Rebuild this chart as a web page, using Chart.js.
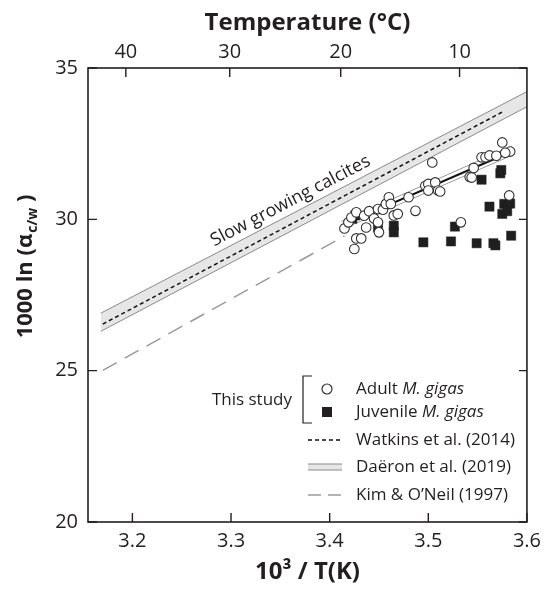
<!DOCTYPE html>
<html>
<head>
<meta charset="utf-8">
<script src="https://cdn.jsdelivr.net/npm/chart.js@4.4.1/dist/chart.umd.min.js"></script>
<style>
  html, body { margin: 0; padding: 0; background: #fff; }
</style>
</head>
<body>
<canvas id="chart" width="548" height="590"></canvas>
<script>
// Adult M. gigas (open circles): x = 10^3/T(K), y = 1000 ln(alpha c/w)
var adultX = [3.415, 3.419, 3.422, 3.425, 3.427, 3.427, 3.432, 3.435, 3.437, 3.440,
              3.445, 3.449, 3.449, 3.450, 3.454, 3.457, 3.460, 3.462, 3.465, 3.469,
              3.480, 3.487, 3.497, 3.500, 3.500, 3.504, 3.507, 3.510, 3.512, 3.533,
              3.542, 3.544, 3.546, 3.554, 3.558, 3.562, 3.569, 3.575, 3.582, 3.583, 3.578];
var adultY = [29.70, 29.90, 30.06, 29.02, 29.37, 30.23, 29.37, 30.12, 29.73, 30.27,
              30.03, 30.34, 29.90, 29.57, 30.32, 30.51, 30.73, 30.51, 30.13, 30.18,
              30.73, 30.28, 31.11, 31.17, 30.95, 31.88, 31.22, 30.95, 30.92, 29.90,
              31.40, 31.38, 31.70, 32.05, 32.05, 32.11, 32.10, 32.54, 30.79, 32.24, 32.20];

// Juvenile M. gigas (filled squares)
var juvX = [3.423, 3.426, 3.449, 3.465, 3.465, 3.495, 3.523, 3.527, 3.549, 3.554,
            3.562, 3.566, 3.568, 3.573, 3.574, 3.575, 3.577, 3.580, 3.583, 3.584];
var juvY = [30.02, 30.13, 29.73, 29.79, 29.57, 29.24, 29.27, 29.76, 29.21, 31.31,
            30.42, 29.21, 29.14, 31.52, 31.63, 30.18, 30.51, 30.27, 30.52, 29.46];

// reference lines (end points)
var watkinsX = [3.170, 3.577];
var watkinsY = [26.54, 33.58];
var daeronX = [3.168, 3.600];
var daeronHi = [26.90, 34.22];
var daeronLo = [26.30, 33.72];
var kimX = [3.170, 3.415];
var kimY = [25.01, 29.45];

// this study regression and its confidence lines
var fitX = [3.412, 3.585];
var fitY = [29.80, 32.25];
var fitHi = [29.93, 32.42];
var fitLo = [29.66, 32.12];

var xTicks = [3.2, 3.3, 3.4, 3.5, 3.6];
var tempTicks = [40, 30, 20, 10];

function pts(xs, ys) {
  return xs.map(function (x, i) { return { x: x, y: ys[i] }; });
}

var FONT = "'Open Sans', 'DejaVu Sans', sans-serif";
var INK = '#231f20';

// inward tick marks, frame, y title, band label and legend
var frame = {
  id: 'frame',
  afterDraw: function (chart) {
    var c = chart.ctx, a = chart.chartArea, s = chart.scales;
    c.save();
    c.strokeStyle = INK;
    c.lineWidth = 1.6;
    c.strokeRect(a.left, a.top, a.right - a.left, a.bottom - a.top);
    c.lineWidth = 1.4;
    c.beginPath();
    s.x.ticks.forEach(function (t) {
      var px = s.x.getPixelForValue(t.value);
      c.moveTo(px, a.bottom); c.lineTo(px, a.bottom - 9);
    });
    s.x2.ticks.forEach(function (t) {
      var px = s.x2.getPixelForValue(t.value);
      c.moveTo(px, a.top); c.lineTo(px, a.top + 9);
    });
    s.y.ticks.forEach(function (t) {
      var py = s.y.getPixelForValue(t.value);
      c.moveTo(a.left, py); c.lineTo(a.left + 9, py);
      c.moveTo(a.right, py); c.lineTo(a.right - 8, py);
    });
    c.stroke();

    // y title with subscript
    var cy = (a.top + a.bottom) / 2 - 28;
    c.translate(26, cy);
    c.rotate(-Math.PI / 2);
    c.fillStyle = INK;
    c.textBaseline = 'middle';
    var big = 'bold 22px ' + FONT, small = 'bold 14px ' + FONT;
    var p1 = '1000 ln (\u03b1', p2 = 'c/w', p3 = ' )';
    c.font = big; var w1 = c.measureText(p1).width, w3 = c.measureText(p3).width;
    c.font = small; var w2 = c.measureText(p2).width;
    var x0 = -(w1 + w2 + w3) / 2;
    c.font = big; c.fillText(p1, x0, 0);
    c.font = small; c.fillText(p2, x0 + w1 + 1, 7);
    c.font = big; c.fillText(p3, x0 + w1 + w2 + 1, 0);
    c.restore();

    // label along the slow growing calcite band
    var xa = s.x.getPixelForValue(daeronX[0]), ya = s.y.getPixelForValue(daeronHi[0]);
    var xb = s.x.getPixelForValue(daeronX[1]), yb = s.y.getPixelForValue(daeronHi[1]);
    var ang = Math.atan2(yb - ya, xb - xa);
    var tx = s.x.getPixelForValue(3.366);
    var ty = ya + (tx - xa) * (yb - ya) / (xb - xa);
    c.save();
    c.translate(tx, ty);
    c.rotate(ang);
    c.font = '18px ' + FONT;
    c.fillStyle = INK;
    c.textAlign = 'center';
    c.textBaseline = 'bottom';
    c.fillText('Slow growing calcites', 0, -3);
    c.restore();

    drawLegend(c);
  }
};

function drawLegend(c) {
  var sx = 308, ex = 342, tx = 356;
  var rows = [389, 412, 440, 467, 495];
  c.save();
  c.fillStyle = INK;
  c.textBaseline = 'middle';
  c.font = '17px ' + FONT;

  // bracket for this study
  c.strokeStyle = INK;
  c.lineWidth = 1.2;
  c.beginPath();
  c.moveTo(312, rows[0] - 13); c.lineTo(303, rows[0] - 13);
  c.lineTo(303, rows[1] + 11); c.lineTo(312, rows[1] + 11);
  c.stroke();
  c.textAlign = 'right';
  c.fillText('This study', 292, (rows[0] + rows[1]) / 2);
  c.textAlign = 'left';

  // adult
  c.beginPath();
  c.arc(327, rows[0], 5, 0, Math.PI * 2);
  c.fillStyle = '#fff'; c.fill();
  c.strokeStyle = '#333'; c.stroke();
  c.fillStyle = INK;
  richText(c, tx, rows[0], 'Adult ', 'M. gigas');
  // juvenile
  c.fillRect(322, rows[1] - 5, 10, 10);
  richText(c, tx, rows[1], 'Juvenile ', 'M. gigas');

  // Watkins
  c.strokeStyle = '#111';
  c.lineWidth = 1.5;
  c.setLineDash([4, 3]);
  c.beginPath(); c.moveTo(sx, rows[2]); c.lineTo(ex, rows[2]); c.stroke();
  c.fillText('Watkins et al. (2014)', tx, rows[2]);

  // Daeron band
  c.setLineDash([]);
  c.fillStyle = '#e6e6e6';
  c.fillRect(sx, rows[3] - 3, ex - sx, 6);
  c.strokeStyle = '#8a8a8a';
  c.lineWidth = 1;
  c.beginPath();
  c.moveTo(sx, rows[3] - 3); c.lineTo(ex, rows[3] - 3);
  c.moveTo(sx, rows[3] + 3); c.lineTo(ex, rows[3] + 3);
  c.stroke();
  c.fillStyle = INK;
  c.fillText('Da\u00ebron et al. (2019)', tx, rows[3]);

  // Kim & O'Neil
  c.strokeStyle = '#9a9a9a';
  c.lineWidth = 1.5;
  c.setLineDash([13, 7]);
  c.beginPath(); c.moveTo(sx, rows[4]); c.lineTo(ex, rows[4]); c.stroke();
  c.setLineDash([]);
  c.fillText('Kim & O\u2019Neil (1997)', tx, rows[4]);
  c.restore();
}

function richText(c, x, y, plain, ital) {
  c.font = '17px ' + FONT;
  c.fillText(plain, x, y);
  var w = c.measureText(plain).width;
  c.font = 'italic 17px ' + FONT;
  c.fillText(ital, x + w, y);
  c.font = '17px ' + FONT;
}

var lineDs = function (label, xs, ys, color, width, dash, order) {
  return {
    label: label, data: pts(xs, ys), showLine: true, pointRadius: 0,
    borderColor: color, borderWidth: width, borderDash: dash || [], fill: false, order: order
  };
};

var datasets = [
  Object.assign(lineDs('Daëron upper', daeronX, daeronHi, '#8a8a8a', 1, null, 20),
                { fill: '+1', backgroundColor: '#e6e6e6' }),
  lineDs('Daëron lower', daeronX, daeronLo, '#8a8a8a', 1, null, 19),
  lineDs('Watkins et al. (2014)', watkinsX, watkinsY, '#111', 1.5, [4, 3], 18),
  lineDs('Kim & O\u2019Neil (1997)', kimX, kimY, '#9a9a9a', 1.5, [16, 9], 17),
  lineDs('fit upper', fitX, fitHi, '#9a9a9a', 1, null, 16),
  lineDs('fit lower', fitX, fitLo, '#9a9a9a', 1, null, 15),
  lineDs('fit', fitX, fitY, '#111', 2, null, 14),
  {
    label: 'Juvenile M. gigas', data: pts(juvX, juvY), pointStyle: 'rect',
    pointRadius: 6.5, backgroundColor: '#1f1f1f', borderColor: '#1f1f1f', borderWidth: 0.5, order: 2
  },
  {
    label: 'Adult M. gigas', data: pts(adultX, adultY), pointStyle: 'circle',
    pointRadius: 4.8, backgroundColor: '#fff', borderColor: '#333', borderWidth: 1.1, order: 1
  }
];

var ctx = document.getElementById('chart').getContext('2d');
new Chart(ctx, {
  type: 'scatter',
  data: { datasets: datasets },
  options: {
    responsive: false,
    animation: false,
    layout: { padding: { left: 0, right: 15, top: 0, bottom: 0 } },
    plugins: { legend: { display: false }, tooltip: { enabled: false } },
    scales: {
      x: {
        type: 'linear', position: 'bottom', min: 3.155, max: 3.6,
        grid: { display: false, drawTicks: false },
        border: { display: false },
        afterBuildTicks: function (scale) {
          scale.ticks = xTicks.map(function (v) { return { value: v }; });
        },
        afterFit: function (scale) { scale.height = 68; },
        ticks: {
          color: INK, padding: 7, font: { family: FONT, size: 20 },
          callback: function (v) { return v.toFixed(1); }
        },
        title: {
          display: true, text: '10\u00b3 / T(K)', color: INK, padding: { bottom: 3 },
          font: { family: FONT, size: 24, weight: 'bold' }
        }
      },
      x2: {
        type: 'linear', position: 'top', min: 3.155, max: 3.6,
        grid: { display: false, drawTicks: false },
        border: { display: false },
        afterBuildTicks: function (scale) {
          scale.ticks = tempTicks.map(function (t) { return { value: 1000 / (t + 273.15) }; });
        },
        afterFit: function (scale) { scale.height = 68; },
        ticks: {
          color: INK, padding: 4, font: { family: FONT, size: 20 },
          callback: function (v) { return String(Math.round(1000 / v - 273.15)); }
        },
        title: {
          display: true, text: 'Temperature (\u00b0C)', color: INK, padding: { top: 9 },
          font: { family: FONT, size: 24, weight: 'bold' }
        }
      },
      y: {
        type: 'linear', position: 'left', min: 20, max: 35,
        grid: { display: false, drawTicks: false },
        border: { display: false },
        afterFit: function (scale) { scale.width = 88; },
        ticks: {
          stepSize: 5, color: INK, padding: 10, font: { family: FONT, size: 20 }
        }
      }
    }
  },
  plugins: [frame]
});
</script>
</body>
</html>
